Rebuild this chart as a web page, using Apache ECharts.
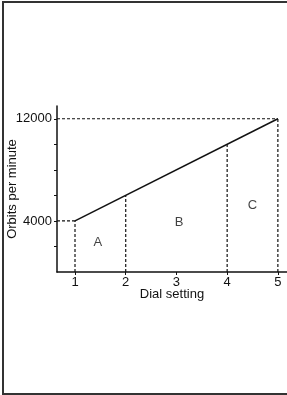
<!DOCTYPE html>
<html>
<head>
<meta charset="utf-8">
<script src="https://cdn.jsdelivr.net/npm/echarts@6/dist/echarts.min.js"></script>
<style>
  html, body { margin: 0; padding: 0; background: #fff; }
  #chart { width: 287px; height: 395px; }
  #frame {
    position: absolute; left: 2px; top: 1px; width: 300px; height: 390px;
    border: 2px solid #333; pointer-events: none;
  }
</style>
</head>
<body>
<div id="chart"></div>
<div id="frame"></div>
<script>
// chart data
var lineX = [1, 5];
var lineY = [4000, 12000];
var guideX = [1, 2, 4, 5];
var guideY = [4000, 6000, 10000, 12000];
var levelY = [4000, 12000];
var levelEndX = [1, 5];
var xTicks = [1, 2, 3, 4, 5];
var yTicks = [2000, 4000, 6000, 8000, 10000, 12000];
var yLabels = [4000, 12000];
var regionNames = ['A', 'B', 'C'];
var regionX = [1.45, 3.05, 4.5];
var regionY = [2350, 3900, 5250];

var xMin = 0.645, xMax = 5.18;
var font = 'Liberation Sans, Arial, sans-serif';
var dash = { color: '#111', width: 1.2, type: [3, 2] };

var series = [];
guideX.forEach(function (x, i) {
    series.push({
        type: 'line', silent: true, symbol: 'none', lineStyle: dash,
        data: [[x, 0], [x, guideY[i]]]
    });
});
levelY.forEach(function (y, i) {
    series.push({
        type: 'line', silent: true, symbol: 'none', lineStyle: dash,
        data: [[xMin, y], [levelEndX[i], y]]
    });
});
series.push({
    type: 'line', silent: true, symbol: 'none',
    lineStyle: { color: '#111', width: 1.5 },
    data: lineX.map(function (x, i) { return [x, lineY[i]]; })
});
series.push({
    type: 'scatter', silent: true, symbolSize: 0,
    label: {
        show: true, position: 'inside', color: '#111', fontSize: 13, fontFamily: font,
        formatter: function (p) { return regionNames[p.dataIndex]; }
    },
    data: regionX.map(function (x, i) { return [x, regionY[i]]; })
});

echarts.init(document.getElementById('chart')).setOption({
    animation: false,
    grid: { left: 57, right: 0, top: 106, bottom: 123, containLabel: false, outerBoundsMode: 'none' },
    xAxis: {
        type: 'value', min: xMin, max: xMax,
        name: 'Dial setting', nameLocation: 'middle', nameGap: 16, nameMoveOverlap: false,
        nameTextStyle: { color: '#111', fontSize: 13, fontFamily: font },
        axisLine: { lineStyle: { color: '#111', width: 1.5 } },
        axisTick: { show: true, length: 3, customValues: xTicks, lineStyle: { color: '#111' } },
        axisLabel: { customValues: xTicks, color: '#111', fontSize: 13, fontFamily: font, margin: 4 },
        splitLine: { show: false }
    },
    yAxis: {
        type: 'value', min: 0, max: 13000,
        name: 'Orbits per minute', nameLocation: 'middle', nameGap: 38, nameMoveOverlap: false,
        nameTextStyle: { color: '#111', fontSize: 13, fontFamily: font },
        axisLine: { show: true, lineStyle: { color: '#111', width: 1.5 } },
        axisTick: { show: true, length: 3, customValues: yTicks, lineStyle: { color: '#111' } },
        axisLabel: {
            customValues: yLabels, color: '#111', fontSize: 13, fontFamily: font, margin: 5,
            formatter: function (v) { return String(v); }
        },
        splitLine: { show: false }
    },
    series: series
});
</script>
</body>
</html>
